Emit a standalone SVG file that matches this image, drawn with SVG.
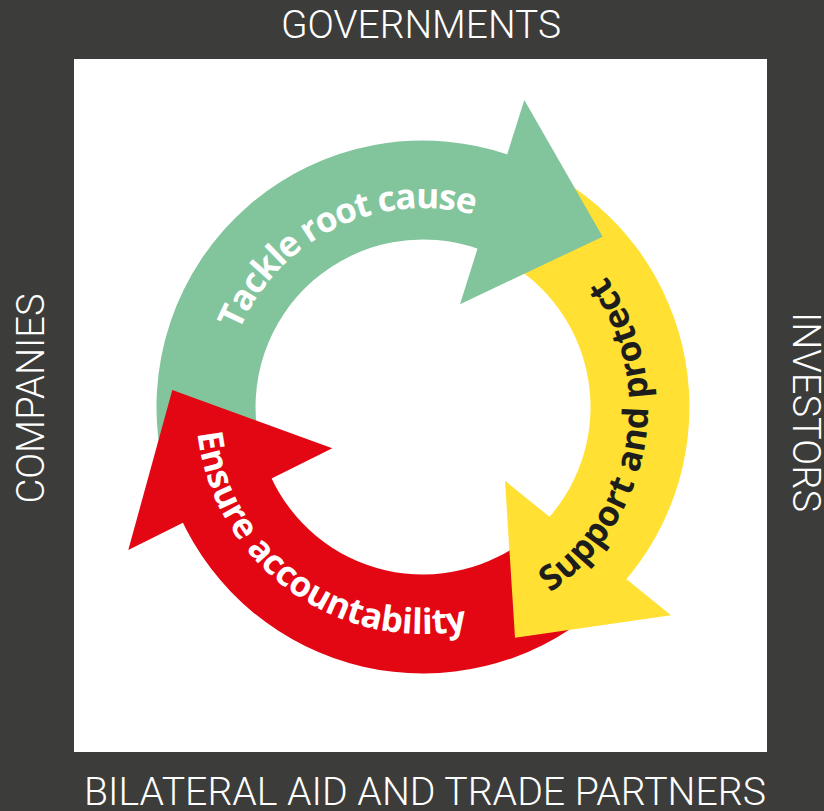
<svg xmlns="http://www.w3.org/2000/svg" width="824" height="811" viewBox="0 0 824 811">
  <defs>
    <style>
      .frame { font-family: Roboto, "Open Sans", "Liberation Sans", sans-serif; font-weight: 300; font-size: 39px; fill: #ffffff; text-anchor: middle; }
      .lbl { font-family: "Open Sans", "Noto Sans", "Liberation Sans", sans-serif; font-weight: 700; font-size: 35px; text-anchor: middle; }
      .green { fill: #82c59d; }
      .yellow { fill: #ffe033; }
      .red { fill: #e30613; }
    </style>
    <path id="pGreen" d="M236.0,475.1 A199,199 0 0 1 595.3,307.5" fill="none"/>
    <path id="pRed" d="M226.4,293.5 A227,227 0 0 0 596.9,552.9" fill="none"/>
    <path id="pYellow" d="M383.9,628.6 A225,225 0 0 0 500.0,195.6" fill="none"/>
  </defs>
  <rect x="0" y="0" width="824" height="811" fill="#3c3c3b"/>
  <rect x="74" y="59" width="693" height="693" fill="#ffffff"/>

  <g id="label-governments"><text class="frame" x="421" y="38" textLength="280" lengthAdjust="spacingAndGlyphs">GOVERNMENTS</text></g>
  <g id="label-bilateral"><text class="frame" x="425" y="805" textLength="682" lengthAdjust="spacingAndGlyphs">BILATERAL AID AND TRADE PARTNERS</text></g>
  <g id="label-companies"><text class="frame" transform="translate(43.5,398.5) rotate(-90)" x="0" y="0" textLength="210" lengthAdjust="spacingAndGlyphs">COMPANIES</text></g>
  <g id="label-investors"><text class="frame" transform="translate(793,412) rotate(90)" x="0" y="0" textLength="200" lengthAdjust="spacingAndGlyphs">INVESTORS</text></g>

  <g id="connectors">
    <path class="green" d="M162.3,462.4 A266.5,266.5 0 0 1 514.1,156.6 L480.3,249.6 A167.5,167.5 0 0 0 259.2,441.8 Z"/>
    <path class="yellow" d="M548.1,171.7 A266.5,266.5 0 0 1 621.0,585.3 L547.5,519.1 A167.5,167.5 0 0 0 501.6,259.1 Z"/>
    <path class="red" d="M594.3,611.1 A266.5,266.5 0 0 1 179.5,515.4 L270.0,475.1 A167.5,167.5 0 0 0 530.7,535.3 Z"/>
    <polygon class="green" points="524.3,100 602.7,236.7 460,304.3"/>
    <polygon class="yellow" points="505,480.7 671,615.3 515,637.7"/>
    <polygon class="red" points="128.3,550 172.3,390 332.3,448.3"/>
  </g>

  <g id="node-tackle">
    <text class="lbl" fill="#ffffff"><textPath href="#pGreen" startOffset="290.5" textLength="286" lengthAdjust="spacing">Tackle root cause</textPath></text>
  </g>
  <g id="node-support">
    <text class="lbl" fill="#1d1d1b"><textPath href="#pYellow" startOffset="353.4" textLength="358" lengthAdjust="spacing">Support and protect</textPath></text>
  </g>
  <g id="node-ensure">
    <text class="lbl" fill="#ffffff"><textPath href="#pRed" startOffset="332.4" textLength="375" lengthAdjust="spacing">Ensure accountability</textPath></text>
  </g>
</svg>
